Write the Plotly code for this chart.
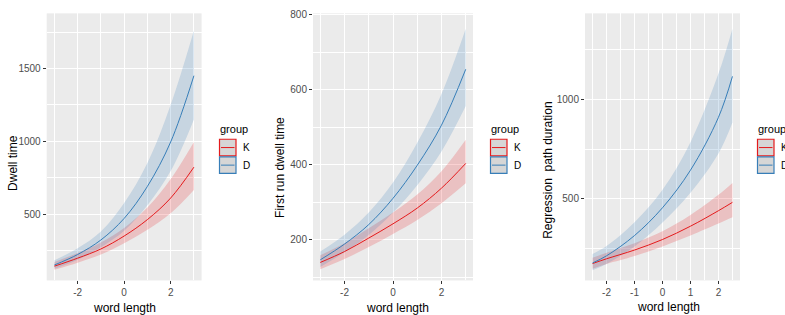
import plotly.graph_objects as go

W, H = 785, 315

# ---------------- data ----------------
# Panel 1: Dwell time
p1_x = [-3, -2, -1, 0, 1, 2, 3]
p1_k_mid = [142, 197, 260, 349, 462, 610, 822]
p1_k_lo = [118, 166, 222, 300, 392, 505, 665]
p1_k_hi = [170, 233, 305, 405, 545, 740, 995]
p1_d_mid = [150, 222, 322, 470, 690, 995, 1450]
p1_d_lo = [124, 186, 272, 385, 560, 795, 1150]
p1_d_hi = [182, 265, 380, 575, 850, 1250, 1760]

# Panel 2: First run dwell time
p2_x = [-3, -2, -1, 0, 1, 2, 3]
p2_k_mid = [139, 168, 204, 242, 284, 337, 403]
p2_k_lo = [121, 148, 180, 215, 252, 297, 350]
p2_k_hi = [158, 190, 230, 272, 320, 382, 466]
p2_d_mid = [146, 188, 240, 310, 398, 505, 654]
p2_d_lo = [127, 166, 212, 272, 345, 435, 556]
p2_d_hi = [168, 213, 272, 352, 458, 588, 762]

# Panel 3: Regression path duration
p3_x = [-2.5, -2, -1, 0, 1, 2, 2.5]
p3_k_mid = [174, 198, 242, 295, 362, 440, 482]
p3_k_lo = [148, 172, 212, 260, 315, 375, 407]
p3_k_hi = [203, 228, 276, 336, 418, 520, 580]
p3_d_mid = [177, 213, 315, 455, 644, 910, 1116]
p3_d_lo = [140, 172, 260, 380, 530, 728, 884]
p3_d_hi = [222, 262, 382, 545, 785, 1130, 1356]

groups = ["K", "D"]
y_titles = ["Dwell time", "First run dwell time", "Regression  path duration"]
x_title = "word length"

p1_xticks = [-2, 0, 2]
p1_xminor = [-3, -1, 1, 3]
p1_yticks = [500, 1000, 1500]
p1_yminor = [250, 750, 1250, 1750]
p2_xticks = [-2, 0, 2]
p2_xminor = [-3, -1, 1, 3]
p2_yticks = [200, 400, 600, 800]
p2_yminor = [100, 300, 500, 700]
p3_xticks = [-2, -1, 0, 1, 2]
p3_xminor = [-2.5, -1.5, -0.5, 0.5, 1.5, 2.5]
p3_yticks = [500, 1000]
p3_yminor = [250, 750, 1250]

# ---------------- styling ----------------
RED = "rgb(228,26,28)"
BLUE = "rgb(55,126,184)"
RED_F = "rgba(228,26,28,0.2)"
BLUE_F = "rgba(55,126,184,0.2)"
FONT = "Liberation Sans, Arial, sans-serif"

def px(x):
    return x / W

def py(y):
    return 1 - y / H

Y_DOM = [py(280), py(9.5)]
panels = [
    dict(x=p1_x, k=(p1_k_lo, p1_k_mid, p1_k_hi), d=(p1_d_lo, p1_d_mid, p1_d_hi),
         dom=[px(46.7), px(201.6)], xr=[-3.33, 3.33], yr=[44, 1878],
         xt=p1_xticks, xm=p1_xminor, yt=p1_yticks, ym=p1_yminor,
         ytitle_xy=(13, 161), xtitle_xy=(124, 308), leg_x=219),
    dict(x=p2_x, k=(p2_k_lo, p2_k_mid, p2_k_hi), d=(p2_d_lo, p2_d_mid, p2_d_hi),
         dom=[px(313), px(473)], xr=[-3.3, 3.3], yr=[91, 803],
         xt=p2_xticks, xm=p2_xminor, yt=p2_yticks, ym=p2_yminor,
         ytitle_xy=(280, 166), xtitle_xy=(397, 308), leg_x=490),
    dict(x=p3_x, k=(p3_k_lo, p3_k_mid, p3_k_hi), d=(p3_d_lo, p3_d_mid, p3_d_hi),
         dom=[px(585), px(740)], xr=[-2.77, 2.77], yr=[89, 1433],
         xt=p3_xticks, xm=p3_xminor, yt=p3_yticks, ym=p3_yminor,
         ytitle_xy=(548, 169), xtitle_xy=(668, 307), leg_x=757),
]

fig = go.Figure()
shapes = []
annotations = []

for i, p in enumerate(panels):
    n = "" if i == 0 else str(i + 1)
    xa, ya = "x" + n, "y" + n
    common = dict(xaxis=xa, yaxis=ya, hoverinfo="skip", showlegend=False,
                  mode="lines")
    for (lo, mid, hi), fc in ((p["k"], RED_F), (p["d"], BLUE_F)):
        fig.add_trace(go.Scatter(x=p["x"], y=lo, line=dict(width=0, shape="spline"),
                                 **common))
        fig.add_trace(go.Scatter(x=p["x"], y=hi, line=dict(width=0, shape="spline"),
                                 fill="tonexty", fillcolor=fc, **common))
    for (lo, mid, hi), lc in ((p["k"], RED), (p["d"], BLUE)):
        fig.add_trace(go.Scatter(x=p["x"], y=mid, line=dict(color=lc, width=1, shape="spline"),
                                 **common))

    axis_common = dict(showline=False, zeroline=False, ticks="outside", ticklen=3,
                       tickwidth=1, tickcolor="#333333",
                       tickfont=dict(family=FONT, size=10, color="#4D4D4D"),
                       showgrid=True, gridcolor="white", gridwidth=1.1)
    fig.update_layout(**{
        "xaxis" + n: dict(domain=p["dom"], range=p["xr"], anchor=ya, tickvals=p["xt"],
                          ticktext=[str(v) for v in p["xt"]],
                          minor=dict(tickvals=p["xm"], showgrid=True, gridcolor="white",
                                     gridwidth=0.5, ticks=""),
                          **axis_common),
        "yaxis" + n: dict(domain=Y_DOM, range=p["yr"], anchor=xa, tickvals=p["yt"],
                          ticktext=[str(v) for v in p["yt"]],
                          minor=dict(tickvals=p["ym"], showgrid=True, gridcolor="white",
                                     gridwidth=0.5, ticks=""),
                          **axis_common),
    })

    # axis titles
    tx, ty = p["ytitle_xy"]
    annotations.append(dict(x=px(tx), y=py(ty), xref="paper", yref="paper",
                            text=y_titles[i], textangle=-90, showarrow=False,
                            xanchor="center", yanchor="middle",
                            font=dict(family=FONT, size=12, color="black")))
    tx, ty = p["xtitle_xy"]
    annotations.append(dict(x=px(tx), y=py(ty), xref="paper", yref="paper",
                            text=x_title, showarrow=False,
                            xanchor="center", yanchor="middle",
                            font=dict(family=FONT, size=12, color="black")))

    # legend (drawn manually, ggplot style)
    lx = p["leg_x"]
    annotations.append(dict(x=px(lx - 1), y=py(127), xref="paper", yref="paper",
                            text="group", showarrow=False, xanchor="left",
                            yanchor="middle",
                            font=dict(family=FONT, size=11, color="black")))
    for j, (g, col) in enumerate(zip(groups, [RED, BLUE])):
        y0 = 137 + j * 17.8
        y1 = y0 + 16.8
        shapes.append(dict(type="rect", xref="paper", yref="paper",
                           x0=px(lx + 0.5), x1=px(lx + 17), y0=py(y1), y1=py(y0),
                           fillcolor="#D6D6D6", line=dict(color=col, width=1.2),
                           layer="above"))
        ym = (y0 + y1) / 2
        shapes.append(dict(type="line", xref="paper", yref="paper",
                           x0=px(lx + 2), x1=px(lx + 15.5), y0=py(ym), y1=py(ym),
                           line=dict(color=col, width=1), layer="above"))
        annotations.append(dict(x=px(lx + 22), y=py(ym), xref="paper", yref="paper",
                                text=g, showarrow=False, xanchor="left", yanchor="middle",
                                font=dict(family=FONT, size=10, color="black")))

fig.update_layout(
    width=W, height=H,
    margin=dict(l=0, r=0, t=0, b=0),
    paper_bgcolor="white",
    plot_bgcolor="#EBEBEB",
    showlegend=False,
    shapes=shapes,
    annotations=annotations,
)

fig.write_html("out.html", config={"displayModeBar": False},
               post_script="document.body.style.margin='0px';document.body.style.overflow='hidden';")
